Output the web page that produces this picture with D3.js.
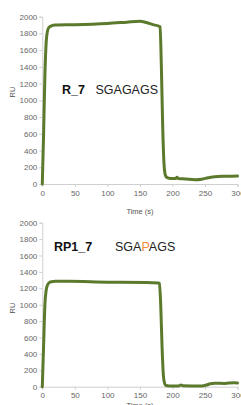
<!DOCTYPE html>
<html><head><meta charset="utf-8">
<script src="https://cdn.jsdelivr.net/npm/d3@7"></script>
<style>
html,body{margin:0;padding:0;background:#fff;overflow:hidden}
svg{display:block}
text{font-family:"Liberation Sans","DejaVu Sans",sans-serif}
</style></head>
<body>
<script>
// Data
const r7Time = [0,2,4,6,8,10,14,20,50,100,130,150,160,170,178,181,183,185,187,189,191,195,200,205,207,209,220,235,245,255,265,280,300];
const r7RU   = [0,600,1300,1700,1830,1870,1890,1900,1905,1920,1935,1945,1930,1905,1890,1880,1400,700,250,110,80,68,65,65,80,65,60,52,58,75,88,92,95];
const rp1Time = [0,2,4,6,8,10,14,20,40,100,160,178,180,182,184,186,188,190,195,210,213,216,230,245,252,258,265,280,295,300];
const rp1RU   = [0,500,1000,1180,1240,1265,1280,1285,1285,1275,1272,1265,1260,1000,500,150,40,15,10,10,22,12,10,10,20,35,42,40,48,45];
const yTicks = [0,200,400,600,800,1000,1200,1400,1600,1800,2000];
const xTicks = [0,50,100,150,200,250,300];

const W = 241, H = 405;
const svg = d3.select("body").append("svg").attr("width", W).attr("height", H);

const panels = [
  {time: r7Time, ru: r7RU, top: 16.7, bottom: 184, name: "R_7", seq: [["SGAGAGS","#222"]], nameX: 62, nameY: 94, seqX: 95.5, ruY: 92, titleY: 214},
  {time: rp1Time, ru: rp1RU, top: 222.7, bottom: 386.7, name: "RP1_7", seq: [["SGA","#222"],["P","#f08a3c"],["AGS","#222"]], nameX: 54, nameY: 250.7, seqX: 115, ruY: 308, titleY: 408}
];

panels.forEach(p => {
  const x = d3.scaleLinear().domain([0,300]).range([42.3, 237.5]);
  const y = d3.scaleLinear().domain([0,2000]).range([p.bottom, p.top]);
  const g = svg.append("g");

  const ya = g.append("g").attr("transform", `translate(${x(0)},0)`)
    .call(d3.axisLeft(y).tickValues(yTicks).tickFormat(d3.format("d")).tickSize(3).tickPadding(2));
  const xa = g.append("g").attr("transform", `translate(0,${y(0)})`)
    .call(d3.axisBottom(x).tickValues(xTicks).tickFormat(d3.format("d")).tickSize(3).tickPadding(3));
  [ya, xa].forEach(a => {
    a.select(".domain").attr("stroke", "#cfcfcf");
    a.selectAll(".tick line").attr("stroke", "#cfcfcf");
    a.selectAll(".tick text").attr("fill", "#666").style("font-size", "8px");
  });

  g.append("text").attr("transform", `translate(15,${p.ruY}) rotate(-90)`)
    .attr("text-anchor", "middle").attr("fill", "#555").style("font-size", "7.5px").text("RU");
  g.append("text").attr("x", 140).attr("y", p.titleY).attr("text-anchor", "middle")
    .attr("fill", "#555").style("font-size", "7.5px").text("Time (s)");

  const line = d3.line().x((d,i) => x(p.time[i])).y(d => y(d)).curve(d3.curveMonotoneX);
  g.append("path").datum(p.ru).attr("d", line).attr("fill", "none")
    .attr("stroke", "#5b7a2c").attr("stroke-width", 3).attr("stroke-linejoin", "round").attr("stroke-linecap", "round");

  g.append("text").attr("x", p.nameX).attr("y", p.nameY).attr("fill", "#111")
    .style("font-size", "12.5px").style("font-weight", "bold").text(p.name);
  const t = g.append("text").attr("x", p.seqX).attr("y", p.nameY).style("font-size", "12.5px");
  p.seq.forEach(s => t.append("tspan").attr("fill", s[1]).text(s[0]));
});
</script>
</body></html>
